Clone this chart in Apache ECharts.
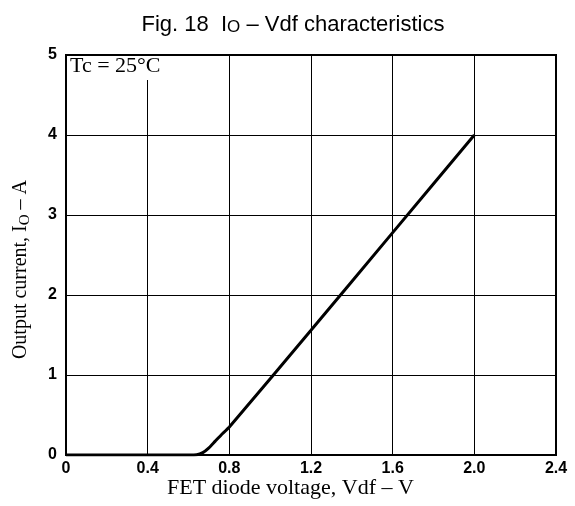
<!DOCTYPE html>
<html><head><meta charset="utf-8">
<script src="https://cdn.jsdelivr.net/npm/echarts@6/dist/echarts.min.js"></script>
<style>html,body{margin:0;padding:0;background:#fff}#c{width:575px;height:506px}</style>
</head><body><div id="c"></div>
<script>
var vdf = [0, 0.3, 0.6, 0.64, 0.67, 0.70, 0.73, 0.76, 0.8, 1.2, 1.6, 2.0];
var io  = [0, 0, 0, 0.003, 0.03, 0.09, 0.17, 0.25, 0.35, 1.56, 2.78, 4.0];
var xTicks = [0, 0.4, 0.8, 1.2, 1.6, 2.0, 2.4];
var xLabels = ['0', '0.4', '0.8', '1.2', '1.6', '2.0', '2.4'];
var yTicks = [0, 1, 2, 3, 4, 5];

var pts = vdf.map(function (v, i) { return [v, io[i]]; });
var chart = echarts.init(document.getElementById('c'));
chart.setOption({
  animation: false,
  backgroundColor: '#fff',
  title: {
    text: 'Fig. 18  I{sub|O} – Vdf characteristics',
    left: 288, top: 9, textAlign: 'center',
    textStyle: {
      fontFamily: 'Liberation Sans', fontSize: 22, fontWeight: 'normal', color: '#000',
      rich: { sub: { fontFamily: 'Liberation Sans', fontSize: 17, verticalAlign: 'bottom', padding: [9, 0, 0, 0], lineHeight: 22 } }
    }
  },
  grid: { left: 66, right: 19, top: 55, bottom: 51, show: true, borderColor: '#000', borderWidth: 2, backgroundColor: 'transparent' },
  xAxis: {
    type: 'value', min: 0, max: 2.4, interval: 0.4,
    axisLine: { show: true, lineStyle: { color: '#000', width: 2 } },
    axisTick: { show: false },
    splitLine: { show: true, lineStyle: { color: '#000', width: 1 } },
    axisLabel: {
      color: '#000', fontFamily: 'Liberation Sans', fontWeight: 'bold', fontSize: 16, margin: 6,
      formatter: function (v) { var i = xTicks.findIndex(function (t) { return Math.abs(t - v) < 1e-6; }); return i >= 0 ? xLabels[i] : ''; }
    }
  },
  yAxis: {
    type: 'value', min: 0, max: 5, interval: 1,
    axisLine: { show: true, lineStyle: { color: '#000', width: 2 } },
    axisTick: { show: false },
    splitLine: { show: true, lineStyle: { color: '#000', width: 1 } },
    axisLabel: {
      color: '#000', fontFamily: 'Liberation Sans', fontWeight: 'bold', fontSize: 16, margin: 9,
      formatter: function (v) { return yTicks.indexOf(v) >= 0 ? String(v) : ''; }
    }
  },
  series: [{
    type: 'line', data: pts, showSymbol: false, smooth: 0.2,
    lineStyle: { color: '#000', width: 3 }
  }],
  graphic: [
    { type: 'rect', left: 67, top: 56, shape: { width: 106, height: 24 }, style: { fill: '#fff' }, z: 100 },
    { type: 'text', left: 70, top: 55, z: 101, style: { text: 'Tc = 25°C', fontFamily: 'Liberation Serif', fontSize: 22, fill: '#000' } },
    { type: 'text', left: 167, top: 477, z: 101, style: { text: 'FET diode voltage, Vdf – V', fontFamily: 'Liberation Serif', fontSize: 22, fill: '#000' } },
    { type: 'text', left: 11, top: 180, z: 101, rotation: Math.PI / 2,
      style: { text: 'Output current, I{sub|O} – A', fontFamily: 'Liberation Serif', fontSize: 20, fill: '#000',
        rich: { sub: { fontFamily: 'Liberation Serif', fontSize: 15, padding: [9, 0, 0, 0] } } } }
  ]
});
</script></body></html>
